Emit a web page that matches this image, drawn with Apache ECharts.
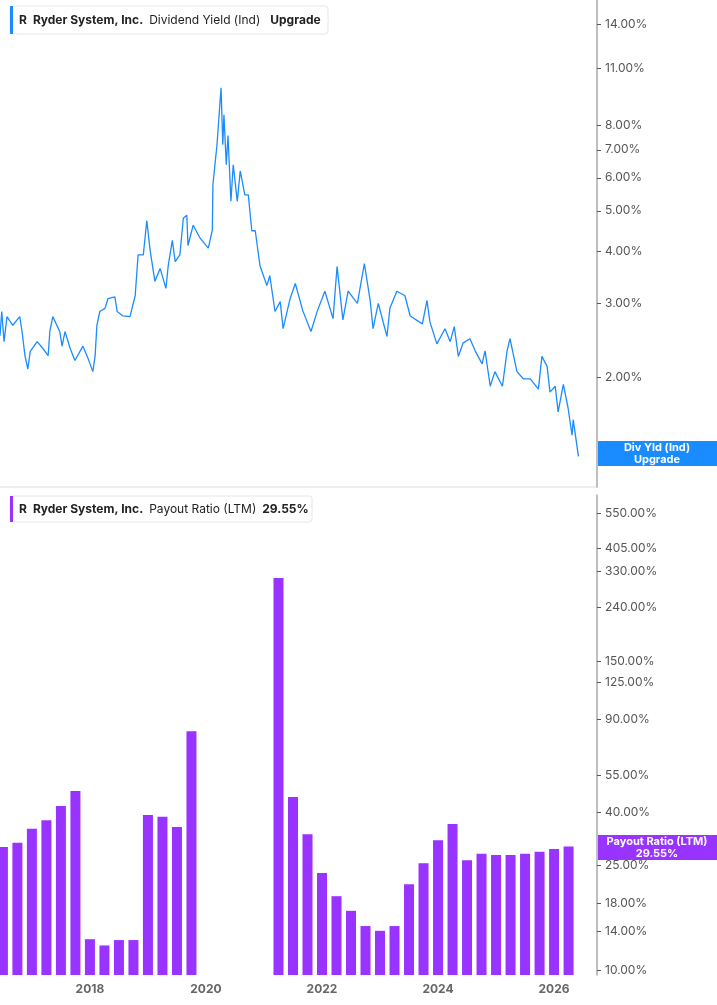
<!DOCTYPE html>
<html><head><meta charset="utf-8">
<script src="https://cdn.jsdelivr.net/npm/echarts@6/dist/echarts.min.js"></script>
<style>html,body{margin:0;padding:0;background:#fff}#c{width:717px;height:1005px}</style>
</head><body><div id="c"></div>
<script>
const yieldYears = [2016.45,2016.48,2016.52,2016.57,2016.67,2016.79,2016.83,2016.88,2016.93,2016.97,2017.09,2017.19,2017.28,2017.31,2017.36,2017.48,2017.52,2017.57,2017.66,2017.74,2017.88,2017.97,2018.05,2018.09,2018.12,2018.17,2018.26,2018.31,2018.43,2018.47,2018.57,2018.69,2018.78,2018.83,2018.92,2018.98,2019.04,2019.12,2019.21,2019.31,2019.35,2019.42,2019.47,2019.55,2019.61,2019.67,2019.69,2019.78,2019.90,2020.04,2020.11,2020.12,2020.19,2020.26,2020.29,2020.31,2020.35,2020.38,2020.43,2020.47,2020.54,2020.59,2020.67,2020.73,2020.79,2020.85,2020.93,2021.05,2021.10,2021.19,2021.28,2021.33,2021.45,2021.54,2021.67,2021.81,2021.92,2022.05,2022.19,2022.26,2022.36,2022.45,2022.61,2022.73,2022.83,2022.88,2022.97,2023.12,2023.17,2023.29,2023.43,2023.52,2023.73,2023.81,2023.86,2023.98,2024.12,2024.21,2024.28,2024.35,2024.43,2024.55,2024.64,2024.76,2024.81,2024.90,2024.98,2025.11,2025.19,2025.24,2025.36,2025.47,2025.59,2025.73,2025.79,2025.88,2025.93,2026.02,2026.07,2026.16,2026.24,2026.31,2026.33,2026.42];
const yieldValues = [2.51,2.87,2.43,2.79,2.66,2.79,2.57,2.25,2.09,2.30,2.43,2.34,2.25,2.58,2.79,2.57,2.37,2.57,2.34,2.19,2.37,2.21,2.06,2.25,2.66,2.87,2.92,3.08,3.11,2.87,2.80,2.79,3.13,3.92,3.92,4.74,4.00,3.39,3.64,3.26,3.70,4.25,3.78,3.92,4.80,4.88,4.13,4.62,4.30,4.07,4.50,5.78,7.20,9.86,7.20,8.50,6.45,7.58,5.27,6.45,5.27,6.23,5.46,5.46,4.48,4.48,3.70,3.31,3.50,2.87,3.03,2.61,3.08,3.35,2.88,2.57,2.88,3.21,2.76,3.68,2.74,3.21,3.00,3.74,3.05,2.61,3.00,2.50,2.92,3.21,3.13,2.80,2.68,3.05,2.71,2.40,2.61,2.43,2.64,2.24,2.41,2.47,2.31,2.15,2.31,1.90,2.06,1.90,2.31,2.47,2.06,1.98,1.98,1.87,2.24,2.12,1.84,1.90,1.65,1.92,1.69,1.45,1.58,1.29];
const barYears = [2016.5,2016.75,2017.0,2017.25,2017.5,2017.75,2018.0,2018.25,2018.5,2018.75,2019.0,2019.25,2019.5,2019.75,2020.0,2020.25,2020.5,2020.75,2021.0,2021.25,2021.5,2021.75,2022.0,2022.25,2022.5,2022.75,2023.0,2023.25,2023.5,2023.75,2024.0,2024.25,2024.5,2024.75,2025.0,2025.25,2025.5,2025.75,2026.0,2026.25];
const payoutValues = [29.4,30.5,34.5,37.2,42.1,48.0,13.1,12.4,13.0,13.0,38.9,38.3,35.0,81.2,null,null,null,null,null,311,45.6,32.9,23.4,19.1,16.8,14.7,14.1,14.7,21.2,25.5,31.2,36.0,26.2,27.7,27.4,27.4,27.7,28.2,28.9,29.55];
const yearTicks = [2018,2020,2022,2024,2026];
const yieldTicks = [2,3,4,5,6,7,8,11,14];
const payoutTicks = [10,14,18,25,40,55,90,125,150,240,330,405,550];

const L = Math.log10;
const chart = echarts.init(document.getElementById('c'));
const fmt = v => Math.pow(10, v).toFixed(2) + '%';
const xBase = {type:'value', min:2016.45, max:2026.74, splitLine:{show:false}, axisLine:{show:false}, axisTick:{show:false}};
const yBase = (ticks, min, max, gi) => ({type:'value', position:'right', gridIndex:gi, min:min, max:max,
  splitLine:{show:false}, axisLine:{show:true, lineStyle:{color:'#aaa', width:1.5}},
  axisTick:{show:true, length:4, inside:false, customValues:ticks.map(L), lineStyle:{color:'#555'}},
  axisLabel:{customValues:ticks.map(L), formatter:fmt, color:'#555', fontSize:12, fontFamily:'Inter', margin:8}});
const rich = {b:{fontWeight:'bold', fontSize:12, fill:'#222', fontFamily:'Inter'}, n:{fontSize:12, fill:'#222', fontFamily:'Inter'}, s:{width:6}, w:{width:10}};
chart.setOption({
  animation:false,
  grid:[{left:0, right:120, top:0, height:487}, {left:0, right:120, top:495, bottom:30}],
  xAxis:[Object.assign({gridIndex:0, axisLabel:{show:false}}, xBase),
         Object.assign({gridIndex:1, axisLabel:{customValues:yearTicks, formatter:v=>String(v), color:'#666', fontWeight:'bold', fontSize:12, fontFamily:'Inter', margin:8}}, xBase)],
  yAxis:[yBase(yieldTicks, L(1.09), L(16), 0), yBase(payoutTicks, L(9.57), L(644), 1)],
  series:[
    {type:'line', xAxisIndex:0, yAxisIndex:0, symbol:'none', lineStyle:{color:'#1a8cff', width:1.3},
     data:yieldYears.map((x,i)=>[x, L(yieldValues[i])])},
    {type:'bar', xAxisIndex:1, yAxisIndex:1, barWidth:10, itemStyle:{color:'#9933ff'}, clip:true,
     data:barYears.map((x,i)=>[x, payoutValues[i]==null?null:L(payoutValues[i])])}
  ],
  graphic:[
    {type:'line', shape:{x1:0,y1:487,x2:597,y2:487}, style:{stroke:'#ddd', lineWidth:1}},
    {type:'rect', shape:{x:10,y:6,width:318,height:28,r:3}, style:{fill:'#fff', stroke:'#e6e6e6'}},
    {type:'rect', shape:{x:10,y:6,width:3,height:28}, style:{fill:'#1a8cff'}},
    {type:'text', x:19, y:20, style:{text:'{b|R}{s|}{b|Ryder System, Inc.}{s|}{n|Dividend Yield (Ind)}{w|}{b|Upgrade}', verticalAlign:'middle', rich:rich}},
    {type:'rect', shape:{x:10,y:496,width:302,height:26,r:3}, style:{fill:'#fff', stroke:'#e6e6e6'}},
    {type:'rect', shape:{x:10,y:496,width:3,height:26}, style:{fill:'#9933ff'}},
    {type:'text', x:19, y:509, style:{text:'{b|R}{s|}{b|Ryder System, Inc.}{s|}{n|Payout Ratio (LTM)}{s|}{b|29.55%}', verticalAlign:'middle', rich:rich}},
    {type:'rect', shape:{x:598,y:441,width:119,height:25}, style:{fill:'#1a8cff'}},
    {type:'text', x:657, y:453.5, style:{text:'Div Yld (Ind)\nUpgrade', fill:'#fff', fontWeight:'bold', fontSize:11, fontFamily:'Inter', align:'center', verticalAlign:'middle', lineHeight:12}},
    {type:'rect', shape:{x:598,y:835,width:119,height:25}, style:{fill:'#9933ff'}},
    {type:'text', x:657, y:847.5, style:{text:'Payout Ratio (LTM)\n29.55%', fill:'#fff', fontWeight:'bold', fontSize:11, fontFamily:'Inter', align:'center', verticalAlign:'middle', lineHeight:12}}
  ]
});
</script></body></html>
